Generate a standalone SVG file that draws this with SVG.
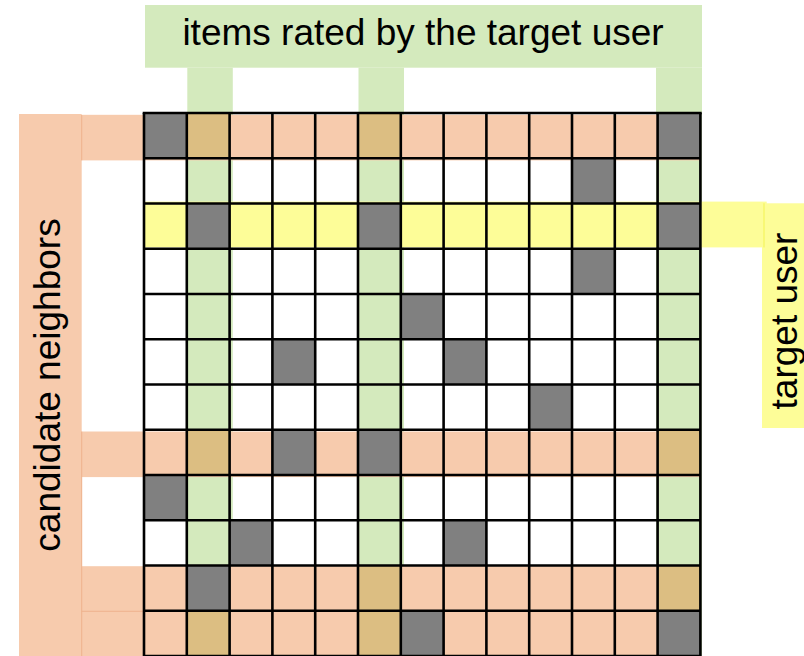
<svg xmlns="http://www.w3.org/2000/svg" width="804" height="656" viewBox="0 0 804 656">
<style>
.lbl{font-family:"Liberation Sans",Arial,Helvetica,sans-serif;font-size:37px;fill:#000}
.grn{fill:#d4eabd}
.org{fill:#f7cbad}
.yel{fill:#fdfd98}
.tan{fill:#dcbe82}
.gry{fill:#808080}
.gl{stroke:#000;stroke-width:2.6;fill:none}
.sep{stroke:#eeb089;stroke-width:1;fill:none}
</style>
<rect width="804" height="656" fill="#fff"/>
<g id="header">
<rect class="grn" x="145" y="5" width="557" height="62.7"/>
<text class="lbl" x="423" y="45" text-anchor="middle">items rated by the target user</text>
</g>
<g id="item-columns">
<rect class="grn" x="187.3" y="67.7" width="45.5" height="588.3"/>
<rect class="grn" x="358.5" y="67.7" width="45.5" height="588.3"/>
<rect class="grn" x="656" y="67.7" width="46" height="588.3"/>
</g>
<g id="neighbors-label">
<rect class="org" x="19" y="114" width="62.7" height="542"/>
<text class="lbl" transform="translate(60,385) rotate(-90)" text-anchor="middle">candidate neighbors</text>
</g>
<g id="neighbor-rows">
<rect class="org" x="81.7" y="114.8" width="618.7" height="45.6"/>
<rect class="org" x="81.7" y="431.5" width="618.7" height="45.6"/>
<rect class="org" x="81.7" y="566.2" width="618.7" height="45.3"/>
<rect class="org" x="81.7" y="611.5" width="618.7" height="44.5"/>
<path class="sep" d="M81.7 115V160.4M81.7 431.5V656M81.7 611.3H144"/>
</g>
<g id="target-user">
<rect class="yel" x="144" y="201.6" width="622.7" height="45.8"/>
<rect class="yel" x="762" y="203.3" width="42" height="224.7"/>
<path d="M764 203.3V247.4" stroke="#f6f66a" stroke-width="1.5"/>
<text class="lbl" transform="translate(797,321) rotate(-90)" text-anchor="middle">target user</text>
</g>
<g id="cells">
<rect class="tan" x="186.8" y="113" width="42.8" height="45.25"/>
<rect class="tan" x="358" y="113" width="42.8" height="45.25"/>
<rect class="tan" x="186.8" y="429.75" width="42.8" height="45.25"/>
<rect class="tan" x="657.6" y="429.75" width="42.8" height="45.25"/>
<rect class="tan" x="358" y="565.5" width="42.8" height="45.25"/>
<rect class="tan" x="657.6" y="565.5" width="42.8" height="45.25"/>
<rect class="tan" x="186.8" y="610.75" width="42.8" height="45.25"/>
<rect class="tan" x="358" y="610.75" width="42.8" height="45.25"/>
<rect class="gry" x="144" y="113" width="42.8" height="45.25"/>
<rect class="gry" x="657.6" y="113" width="42.8" height="45.25"/>
<rect class="gry" x="572" y="158.25" width="42.8" height="45.25"/>
<rect class="gry" x="186.8" y="203.5" width="42.8" height="45.25"/>
<rect class="gry" x="358" y="203.5" width="42.8" height="45.25"/>
<rect class="gry" x="657.6" y="203.5" width="42.8" height="45.25"/>
<rect class="gry" x="572" y="248.75" width="42.8" height="45.25"/>
<rect class="gry" x="400.8" y="294" width="42.8" height="45.25"/>
<rect class="gry" x="272.4" y="339.25" width="42.8" height="45.25"/>
<rect class="gry" x="443.6" y="339.25" width="42.8" height="45.25"/>
<rect class="gry" x="529.2" y="384.5" width="42.8" height="45.25"/>
<rect class="gry" x="272.4" y="429.75" width="42.8" height="45.25"/>
<rect class="gry" x="358" y="429.75" width="42.8" height="45.25"/>
<rect class="gry" x="144" y="475" width="42.8" height="45.25"/>
<rect class="gry" x="229.6" y="520.25" width="42.8" height="45.25"/>
<rect class="gry" x="443.6" y="520.25" width="42.8" height="45.25"/>
<rect class="gry" x="186.8" y="565.5" width="42.8" height="45.25"/>
<rect class="gry" x="400.8" y="610.75" width="42.8" height="45.25"/>
<rect class="gry" x="657.6" y="610.75" width="42.8" height="45.25"/>
</g>
<g id="grid-lines">
<path class="gl" d="M144 113V656M186.8 113V656M229.6 113V656M272.4 113V656M315.2 113V656M358 113V656M400.8 113V656M443.6 113V656M486.4 113V656M529.2 113V656M572 113V656M614.8 113V656M657.6 113V656M700.4 113V656"/>
<path class="gl" d="M142.7 113H701.7M144 158.25H700.4M144 203.5H700.4M144 248.75H700.4M144 294H700.4M144 339.25H700.4M144 384.5H700.4M144 429.75H700.4M144 475H700.4M144 520.25H700.4M144 565.5H700.4M144 610.75H700.4M144 656H700.4"/>
</g>
</svg>
